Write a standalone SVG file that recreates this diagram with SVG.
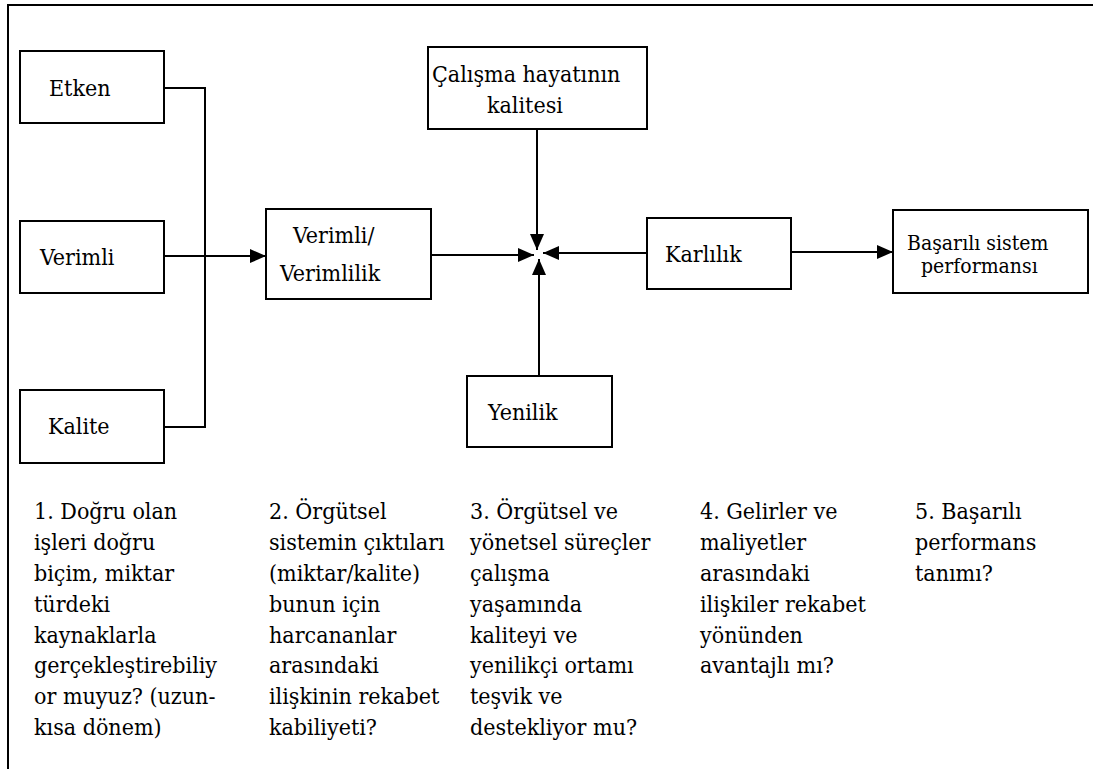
<svg xmlns="http://www.w3.org/2000/svg" width="1093" height="769" viewBox="0 0 1093 769">
<style>
.box{fill:#fff;stroke:#000;stroke-width:2}
.ln{fill:none;stroke:#000;stroke-width:2}
.t{font-family:'DejaVu Serif Condensed','DejaVu Serif',serif;font-stretch:condensed;font-size:23px;fill:#000}
.sm{font-size:21px}
</style>
<defs>
<marker id="ah" markerUnits="userSpaceOnUse" markerWidth="16" markerHeight="14" refX="16" refY="7" orient="auto">
<path d="M0,0 L16,7 L0,14 z" fill="#000"/>
</marker>
</defs>
<rect width="1093" height="769" fill="#fff"/>
<rect x="8" y="5" width="1100" height="800" fill="none" stroke="#000" stroke-width="2"/>
<g id="connectors">
<polyline class="ln" points="164,88 205,88 205,427 164,427"/>
<line class="ln" x1="164" y1="256" x2="266" y2="256" marker-end="url(#ah)"/>
<line class="ln" x1="431" y1="255" x2="534" y2="255" marker-end="url(#ah)"/>
<line class="ln" x1="537" y1="129" x2="537" y2="250" marker-end="url(#ah)"/>
<line class="ln" x1="539" y1="376" x2="539" y2="259" marker-end="url(#ah)"/>
<line class="ln" x1="647" y1="253" x2="543" y2="253" marker-end="url(#ah)"/>
<line class="ln" x1="791" y1="252" x2="893" y2="252" marker-end="url(#ah)"/>
</g>
<g class="t">
<g id="etken"><rect class="box" x="20" y="51" width="144" height="72"/><text x="49" y="96">Etken</text></g>
<g id="verimli"><rect class="box" x="20" y="221" width="144" height="72"/><text x="40" y="265">Verimli</text></g>
<g id="kalite"><rect class="box" x="20" y="390" width="144" height="73"/><text x="48" y="434">Kalite</text></g>
<g id="verimlilik"><rect class="box" x="266" y="209" width="165" height="90"/><text x="293" y="243">Verimli/</text><text x="280" y="281">Verimlilik</text></g>
<g id="calisma"><rect class="box" x="428" y="47" width="219" height="82"/><text x="432" y="82">Çalışma hayatının</text><text x="487" y="113">kalitesi</text></g>
<g id="yenilik"><rect class="box" x="467" y="376" width="145" height="71"/><text x="488" y="420">Yenilik</text></g>
<g id="karlilik"><rect class="box" x="647" y="218" width="144" height="71"/><text x="665" y="262">Karlılık</text></g>
<g id="basarili"><rect class="box" x="893" y="210" width="195" height="83"/><text class="sm" x="907" y="250">Başarılı sistem</text><text class="sm" x="921" y="273">performansı</text></g>
<g id="col1">
<text x="34" y="519">1. Doğru olan</text>
<text x="34" y="550">işleri doğru</text>
<text x="34" y="581">biçim, miktar</text>
<text x="34" y="612">türdeki</text>
<text x="34" y="643">kaynaklarla</text>
<text x="34" y="673">gerçekleştirebiliy</text>
<text x="34" y="704">or muyuz? (uzun-</text>
<text x="34" y="735">kısa dönem)</text>
</g>
<g id="col2">
<text x="269" y="519">2. Örgütsel</text>
<text x="269" y="550">sistemin çıktıları</text>
<text x="269" y="581">(miktar/kalite)</text>
<text x="269" y="612">bunun için</text>
<text x="269" y="643">harcananlar</text>
<text x="269" y="673">arasındaki</text>
<text x="269" y="704">ilişkinin rekabet</text>
<text x="269" y="735">kabiliyeti?</text>
</g>
<g id="col3">
<text x="470" y="519">3. Örgütsel ve</text>
<text x="470" y="550">yönetsel süreçler</text>
<text x="470" y="581">çalışma</text>
<text x="470" y="612">yaşamında</text>
<text x="470" y="643">kaliteyi ve</text>
<text x="470" y="673">yenilikçi ortamı</text>
<text x="470" y="704">teşvik ve</text>
<text x="470" y="735">destekliyor mu?</text>
</g>
<g id="col4">
<text x="700" y="519">4. Gelirler ve</text>
<text x="700" y="550">maliyetler</text>
<text x="700" y="581">arasındaki</text>
<text x="700" y="612">ilişkiler rekabet</text>
<text x="700" y="643">yönünden</text>
<text x="700" y="673">avantajlı mı?</text>
</g>
<g id="col5">
<text x="915" y="519">5. Başarılı</text>
<text x="915" y="550">performans</text>
<text x="915" y="581">tanımı?</text>
</g>
</g>
</svg>
